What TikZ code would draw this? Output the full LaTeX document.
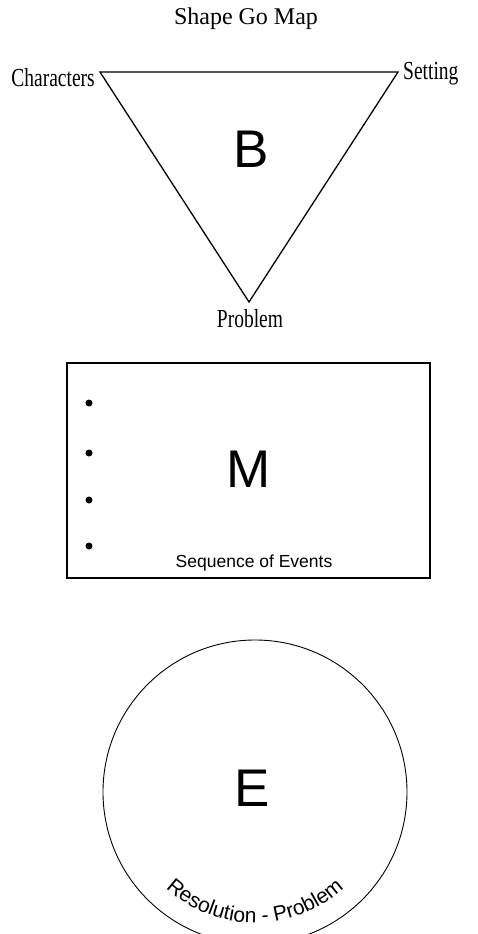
\documentclass[tikz,border=0pt]{standalone}
\usepackage{fontspec}
\setmainfont{Liberation Serif}
\setsansfont{Liberation Sans}
\newfontfamily\condserif[FakeStretch=0.75]{Liberation Serif}
\usetikzlibrary{decorations.text}

\begin{document}
\begin{tikzpicture}[x=1pt,y=-1pt,
  lbl/.style={font=\condserif\fontsize{26}{26}\selectfont, inner sep=0pt},
  big/.style={font=\sffamily\fontsize{53}{53}\selectfont, inner sep=0pt}]
\useasboundingbox (0,0) rectangle (477,934);
\node[font=\fontsize{24}{24}\selectfont, anchor=base, inner sep=0pt] (title) at (246,25) {Shape Go Map};
\coordinate (chars) at (100,72);
\coordinate (sett) at (398,72);
\coordinate (prob) at (249,302);
\draw[line width=1.3] (chars) -- (sett) -- (prob) -- cycle;
\node[lbl, anchor=base east] (charlbl) at (95,86) {Characters};
\node[lbl, anchor=base west] (settlbl) at (403,80) {Setting};
\node[lbl, anchor=base] (problbl) at (250,327) {Problem};
\node[big] (b) at (251,149) {B};
\node[draw, line width=1.3, minimum width=363, minimum height=215, inner sep=0pt] (mid) at (248.5,470.5) {};
\foreach \y in {403,453,500,546} \fill (89,\y) circle (3.5);
\node[big] (m) at (249,469) {M};
\node[font=\sffamily\fontsize{17.5}{17.5}\selectfont, anchor=base, inner sep=0pt] (seq) at (254,567) {Sequence of Events};
\node[draw, circle, line width=0.9, minimum size=304, inner sep=0pt] (end) at (255,792) {};
\node[big] (e) at (252,788) {E};
\path[decorate, decoration={text along path, text align=center,
  text={|\sffamily\fontsize{21}{21}\selectfont|Resolution - Problem}}]
  (end.center) ++(150:131) arc[start angle=150, end angle=30, radius=131];
\end{tikzpicture}
\end{document}
